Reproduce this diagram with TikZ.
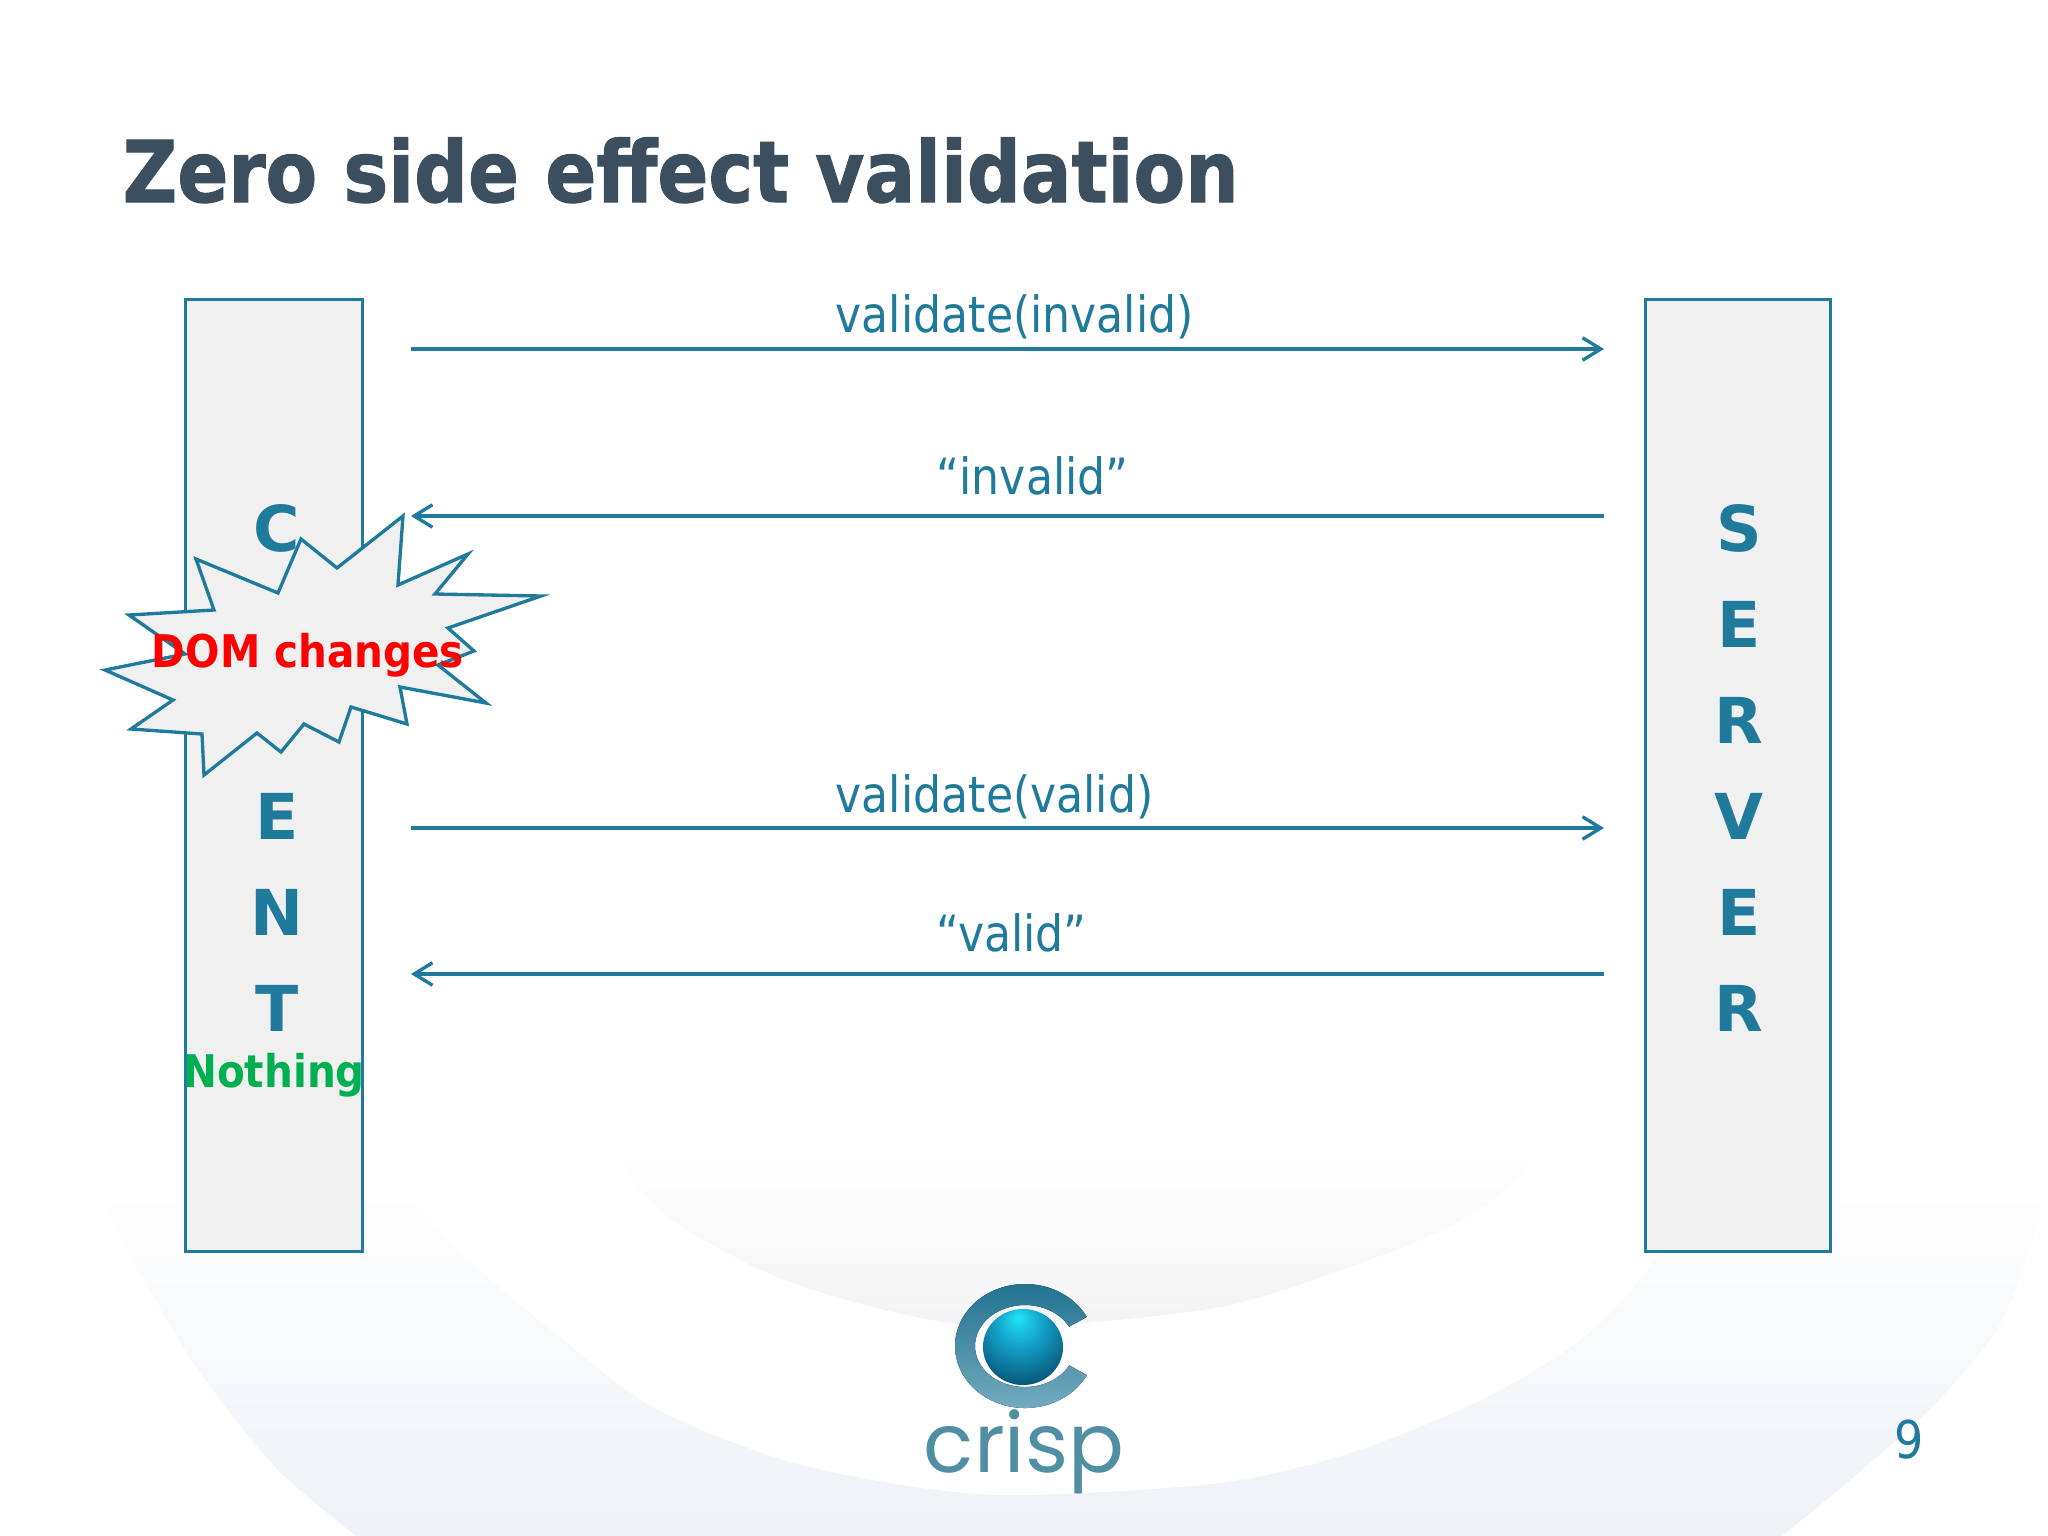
\documentclass[tikz,border=0pt]{standalone}
\usepackage{fontspec}
\usetikzlibrary{arrows.meta}
\setmainfont{DejaVu Sans}
\newfontfamily\titlefont[FakeStretch=0.885,FakeBold=1.2]{DejaVu Sans}
\newfontfamily\labelfont[FakeStretch=0.885]{DejaVu Sans}
\newfontfamily\notefont[FakeStretch=0.90]{DejaVu Sans}
\newfontfamily\logofont{Poppins}
\definecolor{crispteal}{HTML}{1F7A9C}
\definecolor{crispslate}{HTML}{3B4F5F}
\definecolor{panelgrey}{HTML}{F0F0F1}
\definecolor{bandblue}{HTML}{EEF2F7}
\definecolor{hazegrey}{HTML}{F3F3F5}
\definecolor{logotext}{HTML}{4F8FA3}
\definecolor{okgreen}{HTML}{00B050}
\definecolor{ballone}{HTML}{22E4F4}
\definecolor{balltwo}{HTML}{15A8CF}
\definecolor{ballthree}{HTML}{0A6488}
\definecolor{ballfour}{HTML}{03203A}
\pgfdeclareradialshading{logoball}{\pgfpoint{-3bp}{20bp}}{color(0bp)=(ballone); color(13bp)=(balltwo); color(30bp)=(ballthree); color(47bp)=(ballfour); color(58bp)=(black)}
\tikzset{
    side/.style={draw=crispteal,line width=0.85pt,fill=panelgrey,inner sep=0pt,minimum height=9.51cm},
    stack/.style={text=crispteal,align=center,font=\bfseries\fontsize{18}{27.3}\selectfont},
    message/.style={draw=crispteal,line width=0.95pt,-{Straight Barb[length=5.2pt,width=6.4pt]}},
    msglabel/.style={anchor=base west,inner sep=0pt,text=crispteal,font=\labelfont\fontsize{14.2}{16}\selectfont},
    note/.style={inner sep=0pt,font=\notefont\bfseries\fontsize{12.8}{15}\selectfont}
}
\begin{document}
\begin{tikzpicture}[x=0.01cm,y=-0.01cm]
    \useasboundingbox (0,0) rectangle (2048,1536);
    \fill[white] (0,0) rectangle (2048,1536);
    \shade[top color=white,bottom color=bandblue] (0,1190) rectangle (2048,1536);
    \shade[top color=white,bottom color=hazegrey] (600,1150) rectangle (1550,1330);
    \fill[white] (0,1190) -- plot[smooth] coordinates {(98,1190) (137,1267) (196,1367) (275,1467) (356,1536)} -- (0,1536) -- cycle;
    \fill[white] (2048,1536) -- plot[smooth] coordinates {(1782,1536) (1854,1477) (1939,1400) (2004,1317) (2048,1190)} -- cycle;
    \fill[white] plot[smooth] coordinates {(1700,1190) (1645,1273) (1580,1340) (1481,1400) (1350,1453) (1220,1483) (1024,1495) (915,1487) (784,1460) (653,1407) (555,1333) (457,1250) (410,1190)}
        -- (410,1145) -- (600,1145)
        -- plot[smooth] coordinates {(612,1150) (640,1190) (686,1230) (784,1280) (915,1317) (1024,1327) (1220,1307) (1350,1267) (1449,1227) (1514,1183) (1535,1150)}
        -- (1550,1145) -- (1700,1145) -- cycle;

    \node[side,minimum width=1.775cm] (client) at (274,775.5) {};
    \node[side,minimum width=1.84cm] (server) at (1738,775.5) {};
    \node[stack] (clientword) at (277,768) {C\\L\\I\\E\\N\\T};
    \node[stack] (serverword) at (1739,768) {S\\E\\R\\V\\E\\R};

    \coordinate (c1) at (411,349);
    \coordinate (s1) at (1604,349);
    \coordinate (c2) at (411,516);
    \coordinate (s2) at (1604,516);
    \coordinate (c3) at (411,828);
    \coordinate (s3) at (1604,828);
    \coordinate (c4) at (411,974);
    \coordinate (s4) at (1604,974);
    \draw[message] (c1) -- (s1);
    \draw[message] (s2) -- (c2);
    \draw[message] (c3) -- (s3);
    \draw[message] (s4) -- (c4);

    \node[msglabel] (ask1) at (835,332) {validate(invalid)};
    \node[msglabel] (reply1) at (936,494) {“invalid”};
    \node[msglabel] (ask2) at (835,812) {validate(valid)};
    \node[msglabel] (reply2) at (936,951) {“valid”};

    \draw[crispteal,line width=0.95pt,fill=panelgrey,line join=miter] (403,516) -- (398,585) -- (468,554) -- (435,594) -- (541,596) -- (448,628) -- (474,651) -- (438,665) -- (486,703) -- (400,687) -- (407,724) -- (351,707) -- (339,742) -- (304,724) -- (281,752) -- (257,733) -- (204,775) -- (202,734) -- (131,729) -- (173,700) -- (105,670) -- (185,654) -- (129,615) -- (214,610) -- (196,559) -- (278,593) -- (301,539) -- (337,568) -- cycle;
    \node[note,text=red] (dom) at (308,655) {DOM changes};
    \node[note,text=okgreen] (nothing) at (274,1075) {Nothing};

    \node[anchor=base west,inner sep=0pt,text=crispslate,font=\titlefont\bfseries\fontsize{24.2}{28}\selectfont] (title) at (122,202) {Zero side effect validation};

    \coordinate (logo) at (1025,1346);
    \fill[top color=crispteal!90!black,bottom color=crispteal!60!white] ([shift={(28:70 and 62)}]logo) arc[start angle=28,end angle=332,x radius=70,y radius=62] -- ([shift={(332:50 and 41)}]logo) arc[start angle=332,end angle=28,x radius=50,y radius=41] -- cycle;
    \shade[shading=logoball] (1023,1347) circle[x radius=40,y radius=38];
    \node[inner sep=0pt,anchor=base,text=logotext,font=\logofont\fontsize{23.5}{26}\selectfont] (crisp) at (1024,1472) {crisp};

    \node[anchor=base,inner sep=0pt,text=crispteal,font=\labelfont\fontsize{14.8}{17}\selectfont] (pagenum) at (1909,1458) {9};
\end{tikzpicture}
\end{document}
